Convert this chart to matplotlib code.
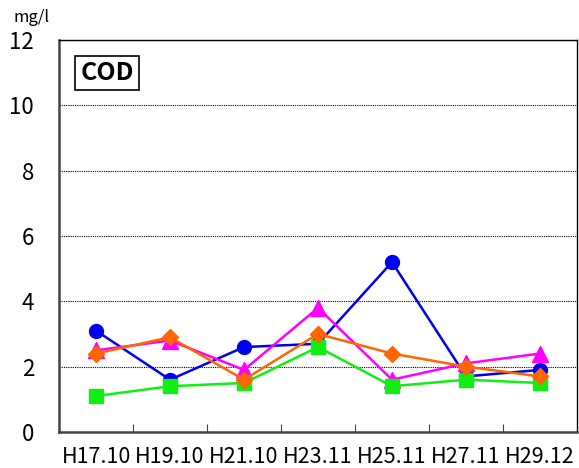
import matplotlib.pyplot as plt

plt.rcParams['font.family'] = ['Noto Sans CJK JP', 'DejaVu Sans']

labels = ['H17.10', 'H19.10', 'H21.10', 'H23.11', 'H25.11', 'H27.11', 'H29.12']
blue = [3.1, 1.6, 2.6, 2.7, 5.2, 1.7, 1.9]
magenta = [2.5, 2.8, 1.9, 3.8, 1.6, 2.1, 2.4]
green = [1.1, 1.4, 1.5, 2.6, 1.4, 1.6, 1.5]
orange = [2.4, 2.9, 1.6, 3.0, 2.4, 2.0, 1.7]

fig = plt.figure(figsize=(5.79, 4.68), dpi=100)
ax = fig.add_axes([0.102, 0.077, 0.8945, 0.8375])

x = list(range(len(labels)))
ax.plot(x, blue, color='#0000ee', marker='o', ms=10, lw=1.8, zorder=3)
ax.plot(x, magenta, color='#ff00ff', marker='^', ms=11, lw=1.8, zorder=3)
ax.plot(x, green, color='#11ee11', marker='s', ms=10, lw=1.8, zorder=3)
ax.plot(x, orange, color='#ff6600', marker='D', ms=8, lw=1.8, zorder=3)

ax.set_xlim(-0.5, len(labels) - 0.5)
ax.set_ylim(0, 12)
ax.set_yticks(range(0, 13, 2))
ax.set_yticklabels([str(v) for v in range(0, 13, 2)], fontsize=16)
ax.yaxis.grid(True, color='black', ls=(0, (1, 1)), lw=0.8)
ax.tick_params(axis='y', length=0, pad=18)

# category ticks sit between the points
ax.set_xticks([i + 0.5 for i in x[:-1]])
ax.set_xticklabels([])
ax.set_xticks(x, minor=True)
ax.set_xticklabels(labels, minor=True, fontsize=15.5)
ax.tick_params(axis='x', which='major', direction='in', length=6, color='#444444')
ax.tick_params(axis='x', which='minor', length=0, pad=10)

for side in ['left', 'bottom']:
    ax.spines[side].set_linewidth(1.8)
    ax.spines[side].set_color('#444444')
for side in ['top', 'right']:
    ax.spines[side].set_linewidth(1.0)

ax.text(0.041, 0.915, 'COD', transform=ax.transAxes, fontsize=18, fontweight='bold',
        va='center', ha='left',
        bbox=dict(boxstyle='square,pad=0.2', fc='white', ec='black', lw=1.2))
fig.text(0.024, 0.962, 'mg/l', fontsize=12, va='center', ha='left')

fig.savefig('out.png', dpi=100)
